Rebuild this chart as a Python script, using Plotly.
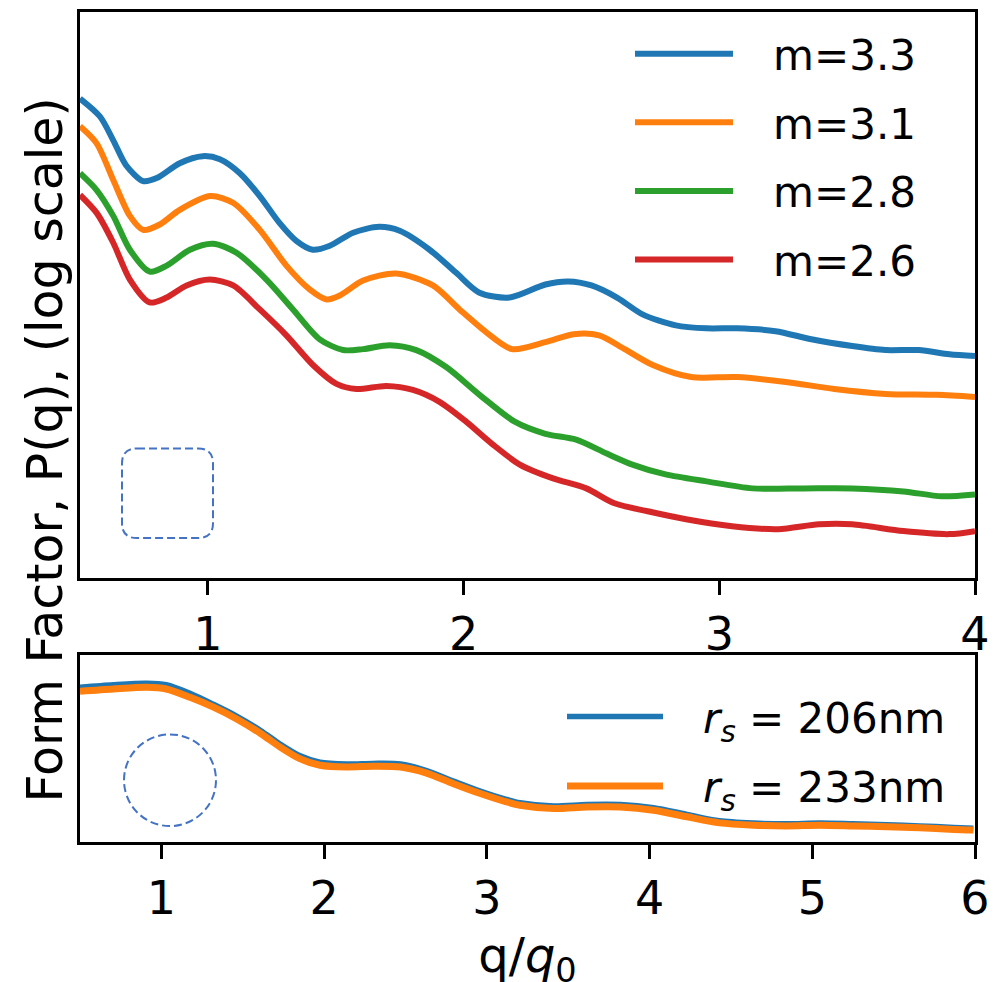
import numpy as np
import plotly.graph_objects as go

# ---- top panel: form factor for several fractal exponents m (log10 of P, arbitrary offset)
q_m33 = [0.50, 0.578, 0.63, 0.68, 0.747, 0.80, 0.89, 0.98, 1.047, 1.125, 1.203, 1.28, 1.346, 1.41,
         1.477, 1.568, 1.67, 1.75, 1.867, 1.97, 2.06, 2.18, 2.32, 2.41, 2.50, 2.60, 2.70, 2.83,
         2.95, 3.07, 3.22, 3.36, 3.52, 3.65, 3.78, 3.90, 4.00]
logp_m33 = [-0.458, -0.553, -0.679, -0.811, -0.895, -0.879, -0.800, -0.763, -0.779, -0.853, -0.974,
            -1.116, -1.211, -1.258, -1.237, -1.168, -1.137, -1.158, -1.258, -1.379, -1.484, -1.511,
            -1.442, -1.426, -1.447, -1.511, -1.600, -1.658, -1.674, -1.674, -1.689, -1.732, -1.768,
            -1.789, -1.789, -1.811, -1.821]

q_m31 = [0.50, 0.565, 0.63, 0.695, 0.747, 0.81, 0.89, 1.01, 1.10, 1.203, 1.307, 1.398, 1.464, 1.516,
         1.607, 1.737, 1.88, 1.984, 2.089, 2.19, 2.32, 2.43, 2.53, 2.63, 2.74, 2.89, 3.07, 3.26,
         3.45, 3.65, 3.85, 4.00]
logp_m31 = [-0.605, -0.695, -0.889, -1.079, -1.153, -1.126, -1.047, -0.974, -1.011, -1.153, -1.342,
            -1.468, -1.521, -1.500, -1.421, -1.384, -1.447, -1.574, -1.695, -1.784, -1.747, -1.705,
            -1.711, -1.784, -1.868, -1.932, -1.932, -1.958, -1.995, -2.021, -2.026, -2.037]

q_m28 = [0.50, 0.565, 0.63, 0.695, 0.773, 0.839, 0.93, 1.02, 1.112, 1.229, 1.333, 1.4375, 1.529,
         1.607, 1.711, 1.815, 1.932, 2.0625, 2.20, 2.32, 2.44, 2.56, 2.66, 2.79, 2.95, 3.13, 3.33,
         3.52, 3.72, 3.87, 4.00]
logp_m28 = [-0.853, -0.942, -1.079, -1.258, -1.374, -1.342, -1.258, -1.226, -1.274, -1.416, -1.574,
            -1.732, -1.789, -1.784, -1.763, -1.789, -1.879, -2.026, -2.168, -2.232, -2.263, -2.337,
            -2.395, -2.447, -2.484, -2.521, -2.521, -2.521, -2.537, -2.563, -2.553]

q_m26 = [0.50, 0.565, 0.63, 0.695, 0.773, 0.839, 0.917, 1.008, 1.099, 1.203, 1.307, 1.411, 1.503,
         1.581, 1.698, 1.802, 1.906, 2.01, 2.11, 2.22, 2.35, 2.48, 2.59, 2.72, 2.87, 3.05, 3.23,
         3.39, 3.52, 3.72, 3.90, 4.00]
logp_m26 = [-0.968, -1.063, -1.221, -1.416, -1.537, -1.511, -1.447, -1.416, -1.447, -1.574, -1.711,
            -1.868, -1.968, -1.995, -1.979, -2.000, -2.063, -2.168, -2.284, -2.395, -2.468, -2.521,
            -2.600, -2.642, -2.684, -2.721, -2.737, -2.711, -2.711, -2.747, -2.763, -2.747]

top_labels = ["m=3.3", "m=3.1", "m=2.8", "m=2.6"]

# ---- bottom panel: sphere form factor for two radii
q_sph = [0.50, 0.705, 0.91, 1.03, 1.176, 1.32, 1.46, 1.61, 1.73, 1.85, 1.975, 2.14, 2.30, 2.47,
         2.63, 2.795, 2.96, 3.12, 3.204, 3.41, 3.615, 3.82, 4.025, 4.23, 4.43, 4.64, 4.84, 5.05,
         5.25, 5.46, 5.66, 5.87, 5.99]
logp_r206 = [-0.172, -0.159, -0.151, -0.159, -0.204, -0.262, -0.323, -0.400, -0.472, -0.533, -0.568,
             -0.577, -0.574, -0.577, -0.612, -0.667, -0.720, -0.764, -0.782, -0.799, -0.791, -0.791,
             -0.808, -0.843, -0.877, -0.889, -0.893, -0.889, -0.893, -0.898, -0.904, -0.912, -0.916]
logp_r233 = [-0.193, -0.181, -0.172, -0.181, -0.225, -0.277, -0.338, -0.416, -0.488, -0.549, -0.584,
             -0.593, -0.589, -0.593, -0.625, -0.681, -0.733, -0.777, -0.795, -0.812, -0.804, -0.804,
             -0.821, -0.856, -0.888, -0.900, -0.904, -0.900, -0.904, -0.909, -0.914, -0.923, -0.926]

bottom_labels = ["<i>r</i><sub><i>s</i></sub> = 206nm", "<i>r</i><sub><i>s</i></sub> = 233nm"]

colors = ["#1f77b4", "#ff7f0e", "#2ca02c", "#d62728"]
FONT = "DejaVu Sans"
GAP = "\u00a0\u00a0\u2009"  # space between legend line and label

# page has an 8px body margin, so layout is worked out in page pixels
W, H = 1005, 982
L, R, T, B = 72, 38, 1, 148
X0, X1 = 80, 975      # plot area left/right on the page
Y0, Y1 = 9, 842       # plot area top/bottom on the page


def px(x):
    return (x - X0) / (X1 - X0)


def py(y):
    return (Y1 - y) / (Y1 - Y0)


fig = go.Figure()

top_series = [(q_m33, logp_m33), (q_m31, logp_m31), (q_m28, logp_m28), (q_m26, logp_m26)]
for i, (q, lp) in enumerate(top_series):
    fig.add_trace(go.Scatter(x=q, y=10 ** np.array(lp), mode="lines", name=GAP + top_labels[i],
                             line=dict(color=colors[i], width=6, shape="spline", smoothing=0.8),
                             xaxis="x", yaxis="y", legend="legend", legendgroup=f"t{i}"))

for i, (lp, w) in enumerate([(logp_r206, 5.5), (logp_r233, 7)]):
    fig.add_trace(go.Scatter(x=q_sph, y=10 ** np.array(lp), mode="lines", name=GAP + bottom_labels[i],
                             line=dict(color=colors[i], width=w, shape="spline", smoothing=0.8),
                             xaxis="x2", yaxis="y2", legend="legend2", legendgroup=f"b{i}"))

axis_common = dict(showline=True, linecolor="black", linewidth=3, mirror=True, showgrid=False,
                   zeroline=False)
xtick = dict(ticks="outside", ticklen=14, tickwidth=2.5, tickcolor="black",
             tickfont=dict(family=FONT, size=46, color="black"), ticklabelstandoff=0)

top_dom = [py(577), 1.0]
bot_dom = [0.0, py(654)]
legend_font = dict(family=FONT, size=42, color="black")

fig.update_layout(
    width=W, height=H,
    margin=dict(l=L, r=R, t=T, b=B),
    paper_bgcolor="white", plot_bgcolor="white",
    font=dict(family=FONT, color="black"),
    xaxis=dict(domain=[0, 1], anchor="y", range=[0.5, 4], tickvals=[1, 2, 3, 4],
               **axis_common, **xtick),
    yaxis=dict(domain=top_dom, anchor="x", type="log", range=[-2.995, 0],
               showticklabels=False, ticks="", **axis_common),
    xaxis2=dict(domain=[0, 1], anchor="y2", range=[0.5, 6], tickvals=[1, 2, 3, 4, 5, 6],
                title=dict(text="q/<i>q</i><sub>0</sub>", font=dict(family=FONT, size=48),
                           standoff=22),
                **axis_common, **xtick),
    yaxis2=dict(domain=bot_dom, anchor="x2", type="log", range=[-0.989, 0],
                showticklabels=False, ticks="", **axis_common),
    legend=dict(x=px(630), y=py(17), xanchor="left", yanchor="top", itemwidth=98,
                tracegroupgap=11, bgcolor="rgba(0,0,0,0)", font=legend_font),
    legend2=dict(x=px(562), y=py(682), xanchor="left", yanchor="top", itemwidth=96,
                 tracegroupgap=12, bgcolor="rgba(0,0,0,0)", font=legend_font),
    annotations=[dict(text="Form Factor, P(q), (log scale)", xref="paper", yref="paper",
                      x=px(45), y=py(449), xanchor="center", yanchor="middle", textangle=-90,
                      showarrow=False, font=dict(family=FONT, size=49, color="black"))],
)


def rounded_rect(x0, y0, x1, y1, r):
    return (f"M {px(x0 + r)},{py(y0)} L {px(x1 - r)},{py(y0)} "
            f"Q {px(x1)},{py(y0)} {px(x1)},{py(y0 + r)} L {px(x1)},{py(y1 - r)} "
            f"Q {px(x1)},{py(y1)} {px(x1 - r)},{py(y1)} L {px(x0 + r)},{py(y1)} "
            f"Q {px(x0)},{py(y1)} {px(x0)},{py(y1 - r)} L {px(x0)},{py(y0 + r)} "
            f"Q {px(x0)},{py(y0)} {px(x0 + r)},{py(y0)} Z")


dash_line = dict(color="#4472c4", width=2, dash="8px,4px")
fig.add_shape(type="path", xref="paper", yref="paper", path=rounded_rect(122, 447, 213, 537, 15),
              line=dash_line)
fig.add_shape(type="circle", xref="paper", yref="paper", x0=px(124), x1=px(216),
              y0=py(826), y1=py(734), line=dash_line)

fig.write_html("out.html")
